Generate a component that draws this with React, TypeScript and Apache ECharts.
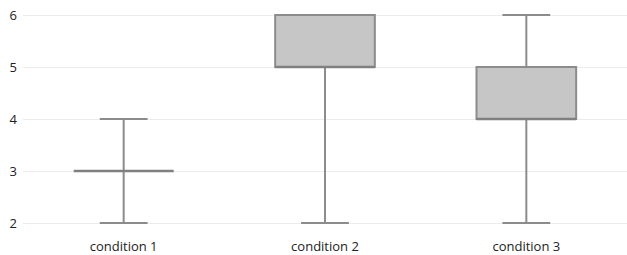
import React, { useEffect, useRef } from "react";
import * as echarts from "echarts";

const categories = ["condition 1", "condition 2", "condition 3"];
const mins = [2, 2, 2];
const q1s = [3, 5, 4];
const medians = [3, 5, 4];
const q3s = [3, 6, 5];
const maxs = [4, 6, 6];
const yTicks = [2, 3, 4, 5, 6];

export default function App() {
  const ref = useRef<HTMLDivElement>(null);
  useEffect(() => {
    if (!ref.current) return;
    const chart = echarts.init(ref.current, null, { renderer: "svg" });
    const data = categories.map((_, i) => [i, mins[i], q1s[i], medians[i], q3s[i], maxs[i]]);
    const stroke = "#8c8c8c";
    chart.setOption({
      animation: false,
      grid: { left: 23, right: 0, top: 15, bottom: 32 },
      xAxis: {
        type: "category",
        data: categories,
        axisLine: { show: false },
        axisTick: { show: false },
        axisLabel: { color: "#222", fontSize: 13, fontFamily: "Open Sans", margin: 16 },
      },
      yAxis: {
        type: "value",
        min: yTicks[0],
        max: yTicks[yTicks.length - 1],
        interval: 1,
        axisLine: { show: false },
        axisTick: { show: false },
        axisLabel: { color: "#222", fontSize: 13, fontFamily: "Open Sans", margin: 6 },
        splitLine: { lineStyle: { color: "#ececec", width: 1 } },
      },
      series: [
        {
          type: "custom",
          data,
          renderItem: (params: any, api: any) => {
            const x = api.value(0);
            const pMin = api.coord([x, api.value(1)]);
            const pQ1 = api.coord([x, api.value(2)]);
            const pMed = api.coord([x, api.value(3)]);
            const pQ3 = api.coord([x, api.value(4)]);
            const pMax = api.coord([x, api.value(5)]);
            const bw = api.size([1, 0])[0] * 0.495;
            const cw = bw * 0.48;
            const cx = pMin[0];
            const ls = { stroke, lineWidth: 2 };
            const children: any[] = [
              { type: "line", shape: { x1: cx, y1: pMin[1], x2: cx, y2: pQ1[1] }, style: ls },
              { type: "line", shape: { x1: cx, y1: pQ3[1], x2: cx, y2: pMax[1] }, style: ls },
              { type: "line", shape: { x1: cx - cw / 2, y1: pMin[1], x2: cx + cw / 2, y2: pMin[1] }, style: ls },
              { type: "line", shape: { x1: cx - cw / 2, y1: pMax[1], x2: cx + cw / 2, y2: pMax[1] }, style: ls },
              {
                type: "rect",
                shape: { x: cx - bw / 2, y: pQ3[1], width: bw, height: pQ1[1] - pQ3[1] },
                style: { fill: "#c6c6c6", stroke, lineWidth: 2 },
              },
              { type: "line", shape: { x1: cx - bw / 2, y1: pMed[1], x2: cx + bw / 2, y2: pMed[1] }, style: { stroke: "#808080", lineWidth: 2.5 } },
            ];
            return { type: "group", children };
          },
        },
      ],
    });
    return () => chart.dispose();
  }, []);
  return (
    <div
      ref={ref}
      style={{ position: "fixed", left: 0, top: 0, width: 627, height: 255, background: "#fff" }}
    />
  );
}
